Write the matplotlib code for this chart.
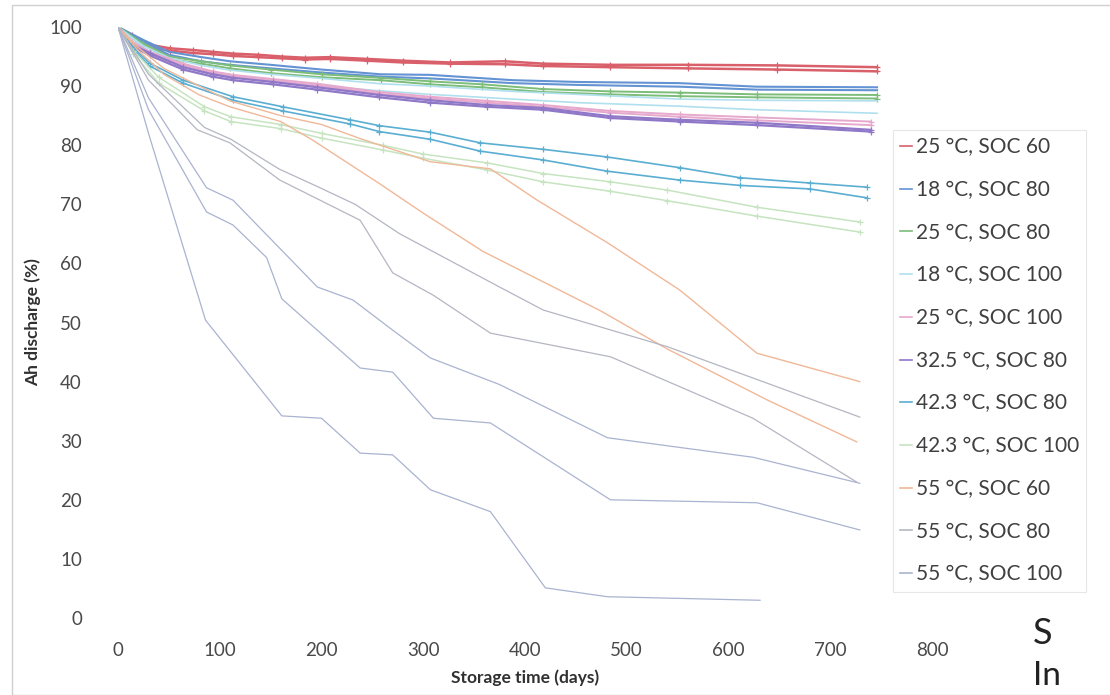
import matplotlib
matplotlib.use("Agg")
import matplotlib.pyplot as plt
from matplotlib.patches import Rectangle

plt.rcParams["font.family"] = ["Lato", "DejaVu Sans"]

# 25 °C, SOC 60
red_days = [0, 14, 31, 51, 74, 93, 113, 138, 161, 184, 208, 245, 280, 326, 380, 418, 484, 560, 648, 746]
red_a = [100, 98.6, 97.0, 96.4, 96.1, 95.8, 95.5, 95.3, 95.0, 94.8, 94.9, 94.6, 94.3, 94.0, 94.2, 93.8, 93.6, 93.6, 93.5, 93.2]
red_b = [100, 98.3, 96.6, 96.0, 95.6, 95.4, 95.1, 94.9, 94.7, 94.5, 94.6, 94.3, 94.0, 93.8, 93.7, 93.4, 93.2, 93.0, 92.8, 92.5]

# 18 °C, SOC 80
blue_days = [0, 25, 50, 82, 110, 150, 200, 258, 307, 388, 452, 552, 628, 746]
blue_a = [100, 97.8, 95.8, 94.9, 94.2, 93.6, 92.8, 92.0, 91.9, 91.0, 90.7, 90.5, 89.9, 89.8]
blue_b = [100, 97.5, 95.3, 94.2, 93.6, 93.0, 92.3, 91.6, 91.3, 90.5, 90.2, 89.9, 89.4, 89.3]

# 25 °C, SOC 80
green_days = [0, 25, 50, 82, 110, 150, 200, 258, 307, 358, 418, 484, 552, 628, 746]
green_a = [100, 97.2, 95.0, 94.2, 93.5, 92.8, 92.0, 91.4, 90.8, 90.3, 89.5, 89.1, 88.9, 88.6, 88.5]
green_b = [100, 97.0, 94.6, 93.8, 93.0, 92.2, 91.5, 91.0, 90.3, 89.8, 89.0, 88.6, 88.3, 88.1, 87.9]

# 18 °C, SOC 100
cyan_days = [0, 25, 50, 82, 110, 150, 200, 258, 307, 388, 452, 552, 628, 746]
cyan_a = [100, 96.8, 94.8, 93.5, 92.7, 92.0, 91.3, 90.4, 90.0, 89.1, 88.6, 87.8, 87.6, 87.5]
cyan_b = [100, 96.5, 94.2, 92.8, 91.8, 91.0, 90.0, 89.2, 88.6, 87.8, 87.2, 86.6, 86.0, 85.4]

# 25 °C, SOC 100
pink_days = [0, 14, 31, 64, 93, 113, 152, 196, 257, 307, 363, 418, 484, 552, 628, 740]
pink_a = [100, 97.5, 95.8, 93.8, 92.5, 91.9, 91.2, 90.4, 89.0, 88.2, 87.5, 86.8, 85.8, 85.2, 84.7, 84.0]
pink_b = [100, 97.3, 95.5, 93.5, 92.2, 91.6, 90.9, 90.1, 88.7, 87.9, 87.2, 86.5, 85.5, 84.8, 84.2, 83.4]

# 32.5 °C, SOC 80
purple_days = [0, 14, 31, 64, 93, 113, 152, 196, 257, 307, 363, 418, 484, 552, 628, 740]
purple_a = [100, 97.0, 95.6, 93.2, 92.0, 91.4, 90.7, 89.8, 88.5, 87.6, 86.8, 86.3, 84.9, 84.3, 83.8, 82.6]
purple_b = [100, 96.8, 95.2, 92.8, 91.6, 91.0, 90.3, 89.4, 88.1, 87.2, 86.5, 86.0, 84.6, 84.0, 83.4, 82.3]

# 42.3 °C, SOC 80
teal_days = [0, 15, 31, 64, 113, 162, 228, 257, 307, 356, 418, 481, 552, 611, 680, 736]
teal_a = [100, 96.5, 93.9, 91.0, 88.2, 86.5, 84.3, 83.3, 82.2, 80.4, 79.3, 78.0, 76.2, 74.5, 73.6, 72.9]
teal_b = [100, 96.2, 93.4, 90.5, 87.6, 85.8, 83.6, 82.3, 81.0, 79.0, 77.5, 75.6, 74.1, 73.2, 72.6, 71.1]

# 42.3 °C, SOC 100
lgreen_days = [0, 15, 40, 85, 111, 160, 200, 260, 300, 363, 418, 484, 540, 628, 729]
lgreen_a = [100, 96.0, 91.5, 86.5, 84.8, 83.5, 82.0, 80.0, 78.5, 77.0, 75.2, 73.8, 72.4, 69.5, 67.0]
lgreen_b = [100, 95.5, 90.5, 85.8, 84.0, 82.8, 81.2, 79.2, 77.8, 75.8, 73.8, 72.2, 70.6, 68.0, 65.3]

# 55 °C, SOC 60
orange_a_days = [0, 20, 45, 80, 110, 160, 200, 240, 307, 366, 412, 481, 552, 628, 729]
orange_a = [100, 96.5, 93.0, 90.0, 87.5, 85.0, 83.5, 81.0, 77.2, 76.0, 70.7, 63.5, 55.5, 44.8, 40.0]
orange_b_days = [0, 20, 45, 80, 110, 160, 190, 257, 300, 359, 474, 540, 638, 726]
orange_b = [100, 96.0, 92.0, 88.5, 86.5, 84.0, 81.0, 73.5, 68.5, 62.0, 52.0, 45.5, 36.9, 29.8]

# 55 °C, SOC 80
gray_c_days = [0, 30, 78, 110, 159, 238, 270, 310, 366, 484, 624, 726]
gray_c = [100, 91.0, 82.6, 80.4, 74.1, 67.3, 58.4, 54.6, 48.2, 44.2, 33.8, 23.0]
gray_d_days = [0, 30, 85, 111, 158, 196, 233, 277, 375, 418, 540, 729]
gray_d = [100, 92.0, 83.0, 81.0, 76.0, 73.0, 70.0, 65.0, 56.0, 52.1, 45.9, 34.0]

# 55 °C, SOC 100
slate_1_days = [0, 30, 86, 161, 200, 238, 270, 307, 366, 420, 481, 631]
slate_1 = [100, 82.0, 50.4, 34.2, 33.8, 27.9, 27.6, 21.7, 18.0, 5.1, 3.6, 3.0]
slate_2_days = [0, 30, 87, 113, 146, 161, 238, 270, 310, 366, 484, 628, 729]
slate_2 = [100, 86.0, 68.7, 66.5, 61.0, 54.0, 42.3, 41.6, 33.8, 33.0, 20.0, 19.5, 14.9]
slate_3_days = [0, 30, 87, 113, 196, 231, 270, 307, 375, 481, 624, 729]
slate_3 = [100, 88.0, 72.8, 70.7, 56.0, 53.8, 48.7, 44.0, 39.5, 30.5, 27.2, 22.8]

series = [
    ("25 °C, SOC 60", "#d9606a", [(red_days, red_a), (red_days, red_b)], "+", 1.8),
    ("18 °C, SOC 80", "#6393d2", [(blue_days, blue_a), (blue_days, blue_b)], None, 1.5),
    ("25 °C, SOC 80", "#7cbd7a", [(green_days, green_a), (green_days, green_b)], "+", 1.4),
    ("18 °C, SOC 100", "#b0e0ee", [(cyan_days, cyan_a), (cyan_days, cyan_b)], None, 1.2),
    ("25 °C, SOC 100", "#e6a8cc", [(pink_days, pink_a), (pink_days, pink_b)], "+", 1.4),
    ("32.5 °C, SOC 80", "#9078c8", [(purple_days, purple_a), (purple_days, purple_b)], "+", 1.6),
    ("42.3 °C, SOC 80", "#5aaed2", [(teal_days, teal_a), (teal_days, teal_b)], "+", 1.2),
    ("42.3 °C, SOC 100", "#c6e4c0", [(lgreen_days, lgreen_a), (lgreen_days, lgreen_b)], "+", 1.1),
    ("55 °C, SOC 60", "#f0b898", [(orange_a_days, orange_a), (orange_b_days, orange_b)], None, 1.0),
    ("55 °C, SOC 80", "#b4b6c2", [(gray_c_days, gray_c), (gray_d_days, gray_d)], None, 0.9),
    ("55 °C, SOC 100", "#aab3d0", [(slate_1_days, slate_1), (slate_2_days, slate_2), (slate_3_days, slate_3)], None, 0.9),
]

x_ticks = [0, 100, 200, 300, 400, 500, 600, 700, 800]
y_ticks = [0, 10, 20, 30, 40, 50, 60, 70, 80, 90, 100]

fig = plt.figure(figsize=(11.1, 6.95), dpi=100)
ax = fig.add_axes([118 / 1110, 1 - 618 / 695, 814 / 1110, 591 / 695])

handles = []
for label, color, lines, marker, lw in series:
    for i, (d, v) in enumerate(lines):
        ln, = ax.plot(d, v, color=color, lw=lw, marker=marker, ms=5, mew=0.9,
                      label=label if i == 0 else "_nolegend_")
        if i == 0:
            handles.append(ln)

ax.set_xlim(0, 800)
ax.set_ylim(0, 100)
ax.set_xticks(x_ticks)
ax.set_yticks(y_ticks)
ax.tick_params(length=0, labelsize=13.5, labelcolor="#4a4a4a")
ax.tick_params(axis="y", pad=26)
ax.tick_params(axis="x", pad=17)
for s in ax.spines.values():
    s.set_visible(False)

ax.set_xlabel("Storage time (days)", fontsize=12.5, fontweight="bold", color="#303030", labelpad=8)
ax.set_ylabel("Ah discharge (%)", fontsize=12.5, fontweight="bold", color="#303030", labelpad=6)

leg = fig.legend(handles=[plt.Line2D([], [], color=h.get_color(), lw=1.2) for h in handles],
                 labels=[s[0] for s in series],
                 loc="upper left", bbox_to_anchor=(893 / 1110, 1 - 130 / 695),
                 fontsize=15, frameon=True, fancybox=False, edgecolor="#e0e0e0",
                 handlelength=0.55, handletextpad=0.2, labelspacing=1.09,
                 borderpad=0.35, borderaxespad=0, labelcolor="#404040")
leg.get_frame().set_linewidth(0.8)

fig.patches.append(Rectangle((12 / 1110, 0), 1.2, 1 - 5 / 695, transform=fig.transFigure,
                             fill=False, edgecolor="#d0d0d0", lw=1.0))
fig.text(1033 / 1110, 1 - 633 / 695, "S", fontsize=26, va="center", color="#222222")
fig.text(1033 / 1110, 1 - 676 / 695, "In", fontsize=24, va="center", color="#222222")

fig.savefig("out.png", dpi=100)
plt.close(fig)
